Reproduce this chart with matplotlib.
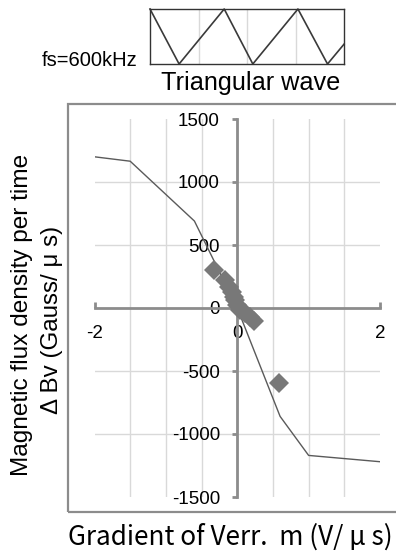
import numpy as np
import matplotlib
matplotlib.use("Agg")
import matplotlib.pyplot as plt
from matplotlib.patches import Rectangle

# ---- data ----
line_x = [-2.0, -1.5, -0.6, 0.0, 0.6, 1.0, 2.0]
line_y = [1200, 1165, 690, 0, -860, -1170, -1220]

pts_x = [-0.32, -0.17, -0.12, -0.08, -0.05, -0.03, 0.0, 0.04, 0.11, 0.18, 0.23, 0.58]
pts_y = [302, 222, 169, 129, 90, 63, 24, -16, -40, -69, -100, -598]

x_ticks = [-2, 0, 2]
y_ticks = [-1500, -1000, -500, 0, 500, 1000, 1500]

wave_x = [0.0, 0.6, 1.53, 2.12, 3.05, 3.66, 4.0]
wave_y = [1.0, 0.0, 1.0, 0.0, 1.0, 0.0, 0.36]

W, H = 396, 552
fig = plt.figure(figsize=(W / 100, H / 100), dpi=100)

def px(l, t, r, b):
    return [l / W, 1 - b / H, (r - l) / W, (b - t) / H]

# outer chart frame
fig.patches.append(Rectangle((67.5 / W, 1 - 512 / H), (400 - 67.5) / W, (512 - 104) / H,
                             transform=fig.transFigure, fill=False,
                             edgecolor="#8c8c8c", lw=1.6, zorder=0))

ax = fig.add_axes(px(94.5, 119, 380, 497))
ax.set_xlim(-2, 2)
ax.set_ylim(-1500, 1500)
grid_c = "#d9d9d9"
for gx in np.arange(-1.5, 2.0, 0.5):
    ax.axvline(gx, color=grid_c, lw=1, zorder=0)
for gy in [-1000, -500, 500, 1000]:
    ax.axhline(gy, color=grid_c, lw=1, zorder=0)

ax.plot(line_x, line_y, color="#5a5a5a", lw=1.0, zorder=2)
ax.plot(pts_x, pts_y, linestyle="none", marker="D", markersize=10.5,
        color="#787878", markeredgewidth=0, zorder=3)

for s in ["top", "right"]:
    ax.spines[s].set_visible(False)
ax.spines["left"].set_position(("data", 0))
ax.spines["bottom"].set_position(("data", 0))
for s in ["left", "bottom"]:
    ax.spines[s].set_color("#8c8c8c")
    ax.spines[s].set_linewidth(2)
ax.set_xticks(x_ticks)
ax.set_xticklabels([str(v) for v in x_ticks])
ax.set_yticks(y_ticks)
ax.set_yticklabels([str(v) for v in y_ticks])
ax.tick_params(axis="x", direction="in", length=4, width=2, color="#8c8c8c",
               pad=12, labelsize=13.5)
ax.tick_params(axis="y", direction="out", length=3.5, width=2, color="#8c8c8c",
               pad=9, labelsize=13.5)
for lab in ax.get_xticklabels() + ax.get_yticklabels():
    lab.set_family("Liberation Sans")
ax.patch.set_alpha(0)

# y label (two lines)
fig.text(22 / W, 1 - 315 / H, "Magnetic flux density per time", rotation=90,
         ha="center", va="center", fontsize=17.6, family="Liberation Sans")
fig.text(52 / W, 1 - 320 / H, "Δ Bv (Gauss/ μ s)", rotation=90,
         ha="center", va="center", fontsize=17.4, family="Liberation Sans")
# x label
fig.text(230 / W, 1 - 537 / H, "Gradient of Verr.  m (V/ μ s)",
         ha="center", va="center", fontsize=18.8, family="Noto Sans CJK JP")

# inset triangular wave
ax2 = fig.add_axes(px(150, 9, 344, 64))
ax2.set_xlim(0, 4)
ax2.set_ylim(0, 1)
for gx in [1, 2, 3]:
    ax2.axvline(gx, color=grid_c, lw=1, zorder=0)
ax2.plot(wave_x, wave_y, color="#3a3a3a", lw=1.2, clip_on=False)
ax2.set_xticks([])
ax2.set_yticks([])
for s in ax2.spines.values():
    s.set_color("#333333")
    s.set_linewidth(1)
fig.text(137 / W, 1 - 61 / H, "fs=600kHz", ha="right", va="center",
         fontsize=14.5, family="Liberation Sans")
fig.text(251 / W, 1 - 83 / H, "Triangular wave", ha="center", va="center",
         fontsize=18.2, family="Liberation Sans")

fig.savefig("out.png", dpi=100)
